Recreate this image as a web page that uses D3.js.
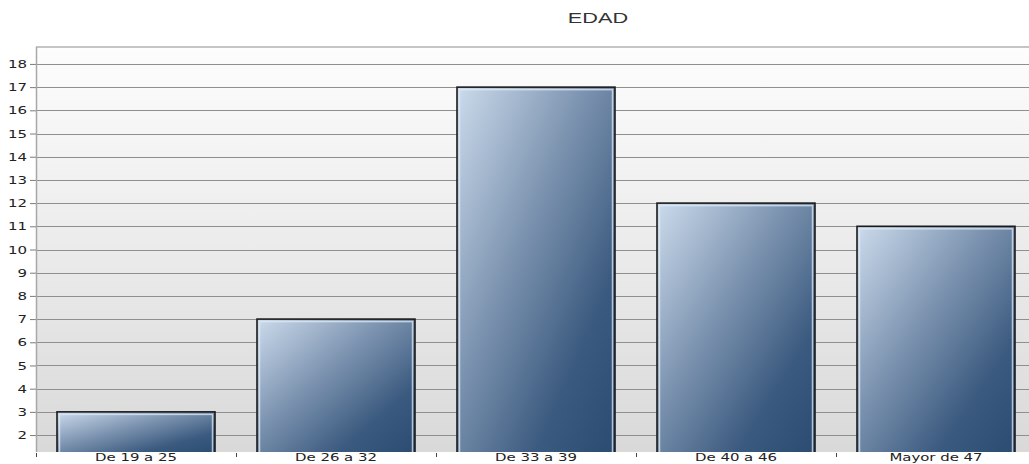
<!DOCTYPE html>
<html>
<head>
<meta charset="utf-8">
<script src="https://cdn.jsdelivr.net/npm/d3@7/dist/d3.min.js"></script>
<style>
  html, body { margin: 0; padding: 0; background: #ffffff; }
  svg { display: block; }
</style>
</head>
<body>
<svg id="chart" width="1029" height="464"></svg>
<script>
// Age groups and respondent counts
const categories = ["De 19 a 25", "De 26 a 32", "De 33 a 39", "De 40 a 46", "Mayor de 47"];
const counts = [3, 7, 17, 12, 11];
const yTicks = [2, 3, 4, 5, 6, 7, 8, 9, 10, 11, 12, 13, 14, 15, 16, 17, 18];
const chartTitle = "EDAD";

const W = 1029, H = 464;
const plot = { left: 36, top: 47, right: 1036, bottom: 452 };
const widen = 1.36; // horizontal stretch applied to axis text

const svg = d3.select("#chart");
const defs = svg.append("defs");

// Plot background: white fading to light grey
const bg = defs.append("linearGradient").attr("id", "bgGrad")
  .attr("x1", 0).attr("y1", 0).attr("x2", 0).attr("y2", 1);
bg.append("stop").attr("offset", 0).attr("stop-color", "#fdfdfd");
bg.append("stop").attr("offset", 1).attr("stop-color", "#d9d9d9");

// Bar fill: light steel blue top-left to deep navy bottom-right
const bar = defs.append("linearGradient").attr("id", "barGrad")
  .attr("x1", 0).attr("y1", 0).attr("x2", 1).attr("y2", 1);
bar.append("stop").attr("offset", 0).attr("stop-color", "#ccdbec");
bar.append("stop").attr("offset", 0.4).attr("stop-color", "#7e95b1");
bar.append("stop").attr("offset", 0.75).attr("stop-color", "#3b5a7f");
bar.append("stop").attr("offset", 1).attr("stop-color", "#2c4b71");

const x = d3.scaleBand().domain(categories)
  .range([plot.left, plot.right]).paddingInner(0.21).paddingOuter(0.105);
const y = d3.scaleLinear().domain([1.27, 18.73]).range([plot.bottom, plot.top]);

function stretch(sel, k) {
  sel.each(function () {
    const len = this.getComputedTextLength();
    d3.select(this).attr("textLength", len * k).attr("lengthAdjust", "spacingAndGlyphs");
  });
}

// Page background
svg.append("rect").attr("width", W).attr("height", H).attr("fill", "#fff");

// Background panel
svg.append("rect")
  .attr("x", plot.left).attr("y", plot.top)
  .attr("width", plot.right - plot.left).attr("height", plot.bottom - plot.top)
  .attr("fill", "url(#bgGrad)");

// Horizontal grid lines
svg.append("g").selectAll("line").data(yTicks).join("line")
  .attr("x1", plot.left).attr("x2", W)
  .attr("y1", d => Math.round(y(d)) + 0.5).attr("y2", d => Math.round(y(d)) + 0.5)
  .attr("stroke", "#8f8f8f").attr("stroke-width", 1);

// Top frame line
svg.append("line")
  .attr("x1", plot.left).attr("x2", W)
  .attr("y1", plot.top).attr("y2", plot.top)
  .attr("stroke", "#c4c4c4").attr("stroke-width", 2);

// Y axis
const yAxis = d3.axisLeft(y).tickValues(yTicks).tickSize(6).tickPadding(3);
const gy = svg.append("g").attr("transform", `translate(${plot.left},0)`).call(yAxis);
gy.select(".domain").remove();
gy.selectAll(".tick line").attr("stroke", "#7a7a7a");
gy.selectAll(".tick text")
  .attr("fill", "#222").attr("font-family", "DejaVu Sans, Verdana, sans-serif")
  .attr("font-size", 11)
  .call(stretch, widen);
svg.append("line")
  .attr("x1", plot.left + 0.5).attr("x2", plot.left + 0.5)
  .attr("y1", plot.top).attr("y2", plot.bottom)
  .attr("stroke", "#a8a8a8").attr("stroke-width", 1.5);

// Bars
const data = categories.map((c, i) => ({ c, v: counts[i] }));
const gb = svg.append("g");
gb.selectAll("rect.bar").data(data).join("rect").attr("class", "bar")
  .attr("x", d => x(d.c)).attr("y", d => y(d.v))
  .attr("width", x.bandwidth()).attr("height", d => plot.bottom - y(d.v) + 2)
  .attr("fill", "url(#barGrad)")
  .attr("stroke", "#1a1a1a").attr("stroke-width", 1.6);
// inner highlight edge
gb.selectAll("rect.hl").data(data).join("rect").attr("class", "hl")
  .attr("x", d => x(d.c) + 2.5).attr("y", d => y(d.v) + 2.5)
  .attr("width", x.bandwidth() - 5).attr("height", d => plot.bottom - y(d.v))
  .attr("fill", "none")
  .attr("stroke", "#dfe9f5").attr("stroke-opacity", 0.75).attr("stroke-width", 1.5);

// Blank strip below the baseline so bars stop there
svg.append("rect").attr("x", plot.left + 2).attr("y", plot.bottom).attr("width", W).attr("height", H - plot.bottom)
  .attr("fill", "#ffffff");

// X axis: ticks at band boundaries, labels at band centres
const bounds = categories.map(c => x(c) - x.step() * x.paddingInner() / 2);
svg.append("g").selectAll("line").data(bounds).join("line")
  .attr("x1", d => Math.round(d) + 0.5).attr("x2", d => Math.round(d) + 0.5)
  .attr("y1", plot.bottom + 1).attr("y2", plot.bottom + 5)
  .attr("stroke", "#444");
svg.append("g").selectAll("text").data(categories).join("text")
  .attr("x", d => x(d) + x.bandwidth() / 2)
  .attr("y", 461)
  .attr("text-anchor", "middle")
  .attr("font-family", "DejaVu Sans, Verdana, sans-serif")
  .attr("font-size", 10.5).attr("fill", "#222")
  .text(d => d)
  .call(stretch, 1.42);

// Title
svg.append("text")
  .attr("x", 598).attr("y", 23)
  .attr("text-anchor", "middle")
  .attr("font-family", "Liberation Sans, Arial, sans-serif")
  .attr("font-size", 14).attr("fill", "#333")
  .text(chartTitle)
  .call(stretch, 1.55);
</script>
</body>
</html>
